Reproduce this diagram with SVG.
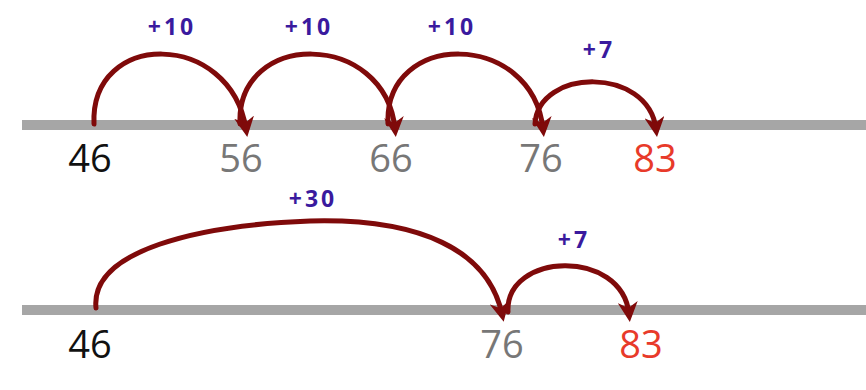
<svg xmlns="http://www.w3.org/2000/svg" width="866" height="390" viewBox="0 0 866 390">
<defs>
<style>
.line{stroke:#a6a6a6;stroke-width:10}
.arc{fill:none;stroke:#7f0a0a;stroke-width:5;stroke-linecap:round;marker-end:url(#ah)}
.lbl{font-family:"Open Sans","Liberation Sans",sans-serif;font-weight:bold;font-size:23px;letter-spacing:3px;fill:#3a1a9e;text-anchor:middle}
.num{font-family:"Open Sans","Liberation Sans",sans-serif;font-size:38px;text-anchor:middle}
.k{fill:#111}
.g{fill:#777}
.r{fill:#e83a2a}
</style>
<marker id="ah" viewBox="0 0 10 10" refX="6" refY="5" markerWidth="4" markerHeight="4" orient="auto" markerUnits="strokeWidth">
<path d="M0,0 L10,5 L0,10 L3,5 Z" fill="#7f0a0a"/>
</marker>
</defs>
<g id="line-top"><line class="line" x1="22" y1="125" x2="866" y2="125"/></g>
<g id="line-bottom"><line class="line" x1="22" y1="310" x2="866" y2="310"/></g>
<g id="connectors">
<path class="arc" d="M94,124 C90,30 230,30 246,129"/>
<path class="arc" d="M240,124 C236,30 385,30 395,129"/>
<path class="arc" d="M388,124 C384,30 532,30 543,129"/>
<path class="arc" d="M535,124 C538,68 648,66 656,129"/>
<path class="arc" d="M96,308 C90,250 200,225 310,221 C420,218 488,250 502,314"/>
<path class="arc" d="M508,312 C505,252 622,248 629,314"/>
</g>
<g id="labels">
<text class="lbl" x="172" y="35">+10</text>
<text class="lbl" x="309" y="35">+10</text>
<text class="lbl" x="452" y="35">+10</text>
<text class="lbl" x="599" y="58">+7</text>
<text class="lbl" x="313" y="207">+30</text>
<text class="lbl" x="574" y="248">+7</text>
</g>
<g id="n46a"><text class="num k" x="90" y="172">46</text></g>
<g id="n56"><text class="num g" x="241" y="172">56</text></g>
<g id="n66"><text class="num g" x="391" y="172">66</text></g>
<g id="n76a"><text class="num g" x="541" y="172">76</text></g>
<g id="n83a"><text class="num r" x="655" y="172">83</text></g>
<g id="n46b"><text class="num k" x="90" y="358">46</text></g>
<g id="n76b"><text class="num g" x="502" y="358">76</text></g>
<g id="n83b"><text class="num r" x="641" y="358">83</text></g>
</svg>
